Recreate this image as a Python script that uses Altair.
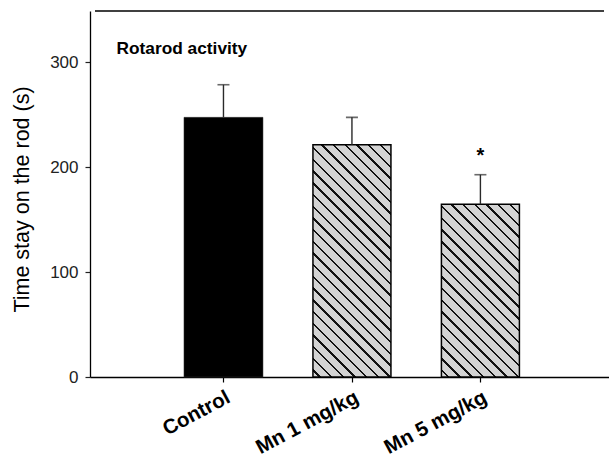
import json
import altair as alt
import pandas as pd

# ---------------- data ----------------
groups = ["Control", "Mn 1 mg/kg", "Mn 5 mg/kg"]
positions = [1, 2, 3]
means = [247.6, 221.5, 164.7]
sems = [31.1, 26.1, 28.2]
marks = ["", "", "*"]
hatched = [False, True, True]
y_ticks = [0, 100, 200, 300]
panel_title = "Rotarod activity"
y_title = "Time stay on the rod (s)"

# ---------------- layout / style ----------------
FONT = "Liberation Sans"
Y_MAX = 349
X_MAX = 3.962
W, H = 519, 366
BAR_W = 78

df = pd.DataFrame({"group": groups, "pos": positions, "mean": means,
                   "sem": sems, "mark": marks, "hatched": hatched})
df["upper"] = df["mean"] + df["sem"]


def hatch_fill(h_px, w_px=BAR_W, period=11.7, dark=2.4,
               base="#d3d3d3", ink="#111111"):
    """Diagonal (\\) hatch as a linear gradient in bounding-box units."""
    r = h_px / w_px
    s = (1 + r) / (1 + r * r)
    L = w_px + h_px
    stops = [alt.GradientStop(offset=0, color=base)]
    pos = period * 0.5
    while pos < L:
        a = pos / L
        b = min((pos + dark) / L, 1.0)
        stops += [alt.GradientStop(offset=a, color=base),
                  alt.GradientStop(offset=a, color=ink),
                  alt.GradientStop(offset=b, color=ink),
                  alt.GradientStop(offset=b, color=base)]
        pos += period
    stops.append(alt.GradientStop(offset=1, color=base))
    return alt.LinearGradient(gradient="linear", stops=stops,
                              x1=0, y1=1, x2=s, y2=1 - s * r)


label_expr = json.dumps(groups) + "[datum.value - 1]"

x_axis = alt.Axis(values=positions, labelExpr=label_expr, title=None, grid=False,
                  domainColor="black", domainWidth=1.3, tickColor="black",
                  tickSize=5, tickWidth=1.2, labelAngle=-28, labelAlign="right",
                  labelBaseline="top", labelFontSize=20.5, labelFontWeight="bold",
                  labelColor="black", labelPadding=5,
                  labelFont=FONT, labelOverlap=False, labelFlush=False)
y_axis = alt.Axis(values=y_ticks, grid=False, domainColor="black", domainWidth=1.3,
                  tickColor="#222222", tickSize=5, tickWidth=1.2,
                  labelFontSize=17, labelColor="#222222", labelPadding=7,
                  labelFont=FONT, titleFont=FONT, titleFontSize=21.5,
                  titleFontWeight="normal", titleColor="black", titlePadding=16,
                  titleY=188)

x_enc = alt.X("pos:Q", scale=alt.Scale(domain=[0, X_MAX], nice=False, zero=False),
              axis=x_axis)
y_scale = alt.Scale(domain=[0, Y_MAX], nice=False)


def y_enc(field):
    return alt.Y(f"{field}:Q", scale=y_scale, axis=y_axis, title=y_title)


base = alt.Chart(df)
px_per_unit = H / Y_MAX

layers = []
for g, m, hat in zip(groups, means, hatched):
    sub = base.transform_filter(alt.datum.group == g)
    if hat:
        bar = sub.mark_bar(size=BAR_W, fill=hatch_fill(m * px_per_unit),
                           stroke="black", strokeWidth=1.5)
    else:
        bar = sub.mark_bar(size=BAR_W + 1, fill="black", stroke="#333333",
                           strokeWidth=0.5)
    layers.append(bar.encode(x=x_enc, y=y_enc("mean")))

err = base.mark_rule(color="#2a2a2a", strokeWidth=1.4).encode(
    x=x_enc, y=y_enc("mean"), y2="upper:Q")
cap = base.mark_tick(orient="horizontal", size=12, thickness=1.6,
                     color="#2a2a2a").encode(x=x_enc, y=y_enc("upper"))
star = base.mark_text(fontSize=20, fontWeight="bold", font=FONT,
                      baseline="alphabetic", dy=-13, color="black").encode(
    x=x_enc, y=y_enc("upper"), text="mark:N")

one = alt.Chart(pd.DataFrame({"t": [panel_title]}))
top_border = one.mark_rule(color="black", strokeWidth=1.3).encode(
    x=alt.datum(0), x2=alt.datum(X_MAX), y=alt.datum(Y_MAX))
ptitle = one.mark_text(align="left", baseline="alphabetic", fontSize=17.3,
                       fontWeight="bold", font=FONT, color="black").encode(
    x=alt.datum(0.168), y=alt.datum(308), text="t:N")

chart = alt.layer(*layers, err, cap, star, top_border, ptitle).properties(
    width=W, height=H,
    autosize=alt.AutoSizeParams(type="none"),
    padding={"left": 90, "top": 11, "right": 0, "bottom": 82},
    background="white",
).configure_view(stroke=None)

chart.save("out.html", embed_options={"renderer": "svg", "actions": False})
